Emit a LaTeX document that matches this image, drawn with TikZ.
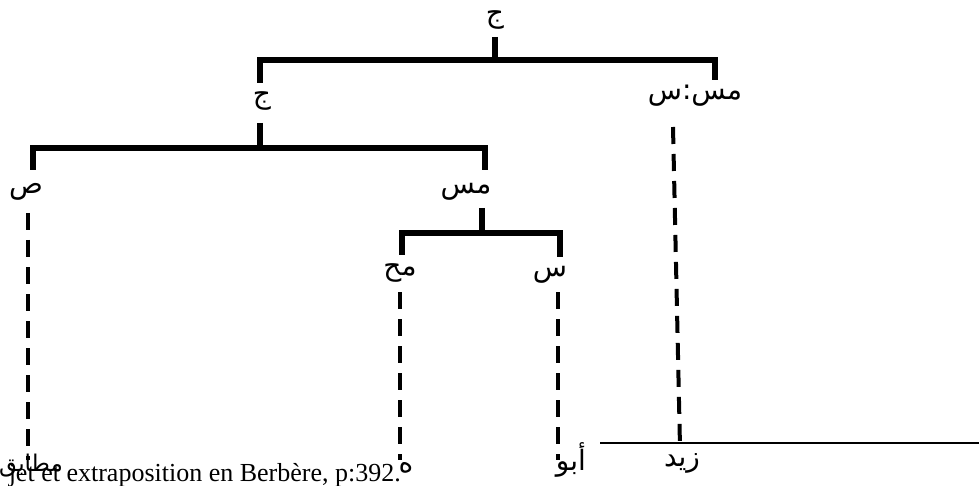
\documentclass[tikz,border=0pt]{standalone}
\usepackage{fontspec}
\setmainfont{Liberation Serif}
\newfontfamily\arabicfont[Script=Arabic]{DejaVu Sans}
\TeXXeTstate=1
\usetikzlibrary{calc}
\begin{document}
\begin{tikzpicture}[x=1pt,y=-1pt,
  bar/.style={line width=5.5pt, line join=miter},
  dashln/.style={line width=4pt, dash pattern=on 17pt off 10pt},
  lab/.style={font=\arabicfont\fontsize{28}{32}\selectfont, inner sep=0pt}]
\useasboundingbox (0,0) rectangle (979,486);
% labels
\node[lab] (root) at (495,20) {\beginR ج\endR};
\node[lab] (j2) at (262,101) {\beginR ج\endR};
\node[lab] (msS) at (695,96) {\beginR مس:س\endR};
\node[lab] (sad) at (26,192) {\beginR ص\endR};
\node[lab] (ms) at (466,192) {\beginR مس\endR};
\node[lab] (mh) at (400,273) {\beginR مح\endR};
\node[lab] (sin) at (550,275) {\beginR س\endR};
% leaves
\node[lab, font=\arabicfont\fontsize{23}{27}\selectfont] (l1) at (31,466) {\beginR مطابق\endR};
\node[lab] (l2) at (406,468) {\beginR ه\endR};
\node[lab] (l3) at (571,460) {\beginR أبو\endR};
\node[lab] (l4) at (682,463) {\beginR زيد\endR};
% caption text
\node[font=\fontsize{26}{30}\selectfont, anchor=base east, inner sep=0pt] (cap) at (401,481) {jet et extraposition en Berbère, p:392.};
% tree lines
\draw[bar] ($(root)+(0,17)$) -- ($(root)+(0,40)$);
\draw[bar] ($(j2)+(-2,-18)$) -- ($(j2)+(-2,-41)$) -- ($(msS)+(20,-36)$) -- ($(msS)+(20,-16)$);
\draw[bar] ($(j2)+(-2,22)$) -- ($(j2)+(-2,47)$);
\draw[bar] ($(sad)+(7,-22)$) -- ($(sad)+(7,-44)$) -- ($(ms)+(19,-44)$) -- ($(ms)+(19,-22)$);
\draw[bar] ($(ms)+(16,16)$) -- ($(ms)+(16,41)$);
\draw[bar] ($(mh)+(2,-18)$) -- ($(mh)+(2,-40)$) -- ($(sin)+(10,-42)$) -- ($(sin)+(10,-18)$);
% dashed lines to leaves
\draw[dashln] ($(sad)+(2,21)$) -- ($(l1)+(-3,-6)$);
\draw[dashln] ($(mh)+(0,19)$) -- ($(l2)+(-6,-8)$);
\draw[dashln] ($(sin)+(8,17)$) -- ($(l3)+(-13,0)$);
\draw[dashln] ($(msS)+(-22,31)$) -- ($(l4)+(-2,-16)$);
% thin rule
\coordinate (r1) at (600,443);
\coordinate (r2) at (979,443);
\draw[line width=1.5pt] (r1) -- (r2);
\end{tikzpicture}
\end{document}
